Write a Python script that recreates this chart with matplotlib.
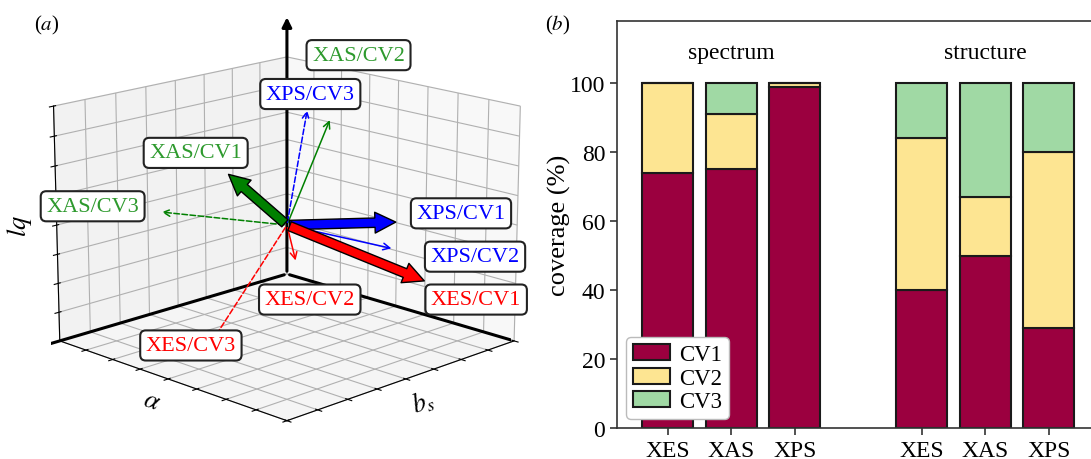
import numpy as np
import matplotlib
matplotlib.use('Agg')
import matplotlib.pyplot as plt
from matplotlib.patches import FancyArrowPatch
from mpl_toolkits.mplot3d import proj3d

plt.rcParams['font.family'] = 'serif'
plt.rcParams['font.serif'] = ['Liberation Serif', 'DejaVu Serif']
plt.rcParams['mathtext.fontset'] = 'stix'

# ---- data: panel (a), CV loadings in (b_s, alpha, lq) ----
vec_names = ['XPS/CV1', 'XES/CV1', 'XAS/CV1',
             'XPS/CV2', 'XAS/CV2', 'XES/CV2',
             'XPS/CV3', 'XAS/CV3', 'XES/CV3']
vec_bs = [-0.38, -0.40, 0.31, -0.31, -0.29, 0.11, -0.24, 0.46, 0.59]
vec_alpha = [0.58, 0.80, -0.21, 0.61, 0.09, 0.19, -0.06, -0.66, -0.09]
vec_lq = [0.08, -0.37, 0.47, -0.12, 0.86, -0.24, 0.92, 0.06, -0.90]
# where the label boxes sit (same coordinates)
lab_bs = [-0.755, -0.829, 0.393, -0.82, -0.305, -0.10, -0.10, 0.842, 0.423]
lab_alpha = [0.755, 0.829, -0.393, 0.82, 0.305, 0.10, 0.10, -0.842, -0.423]
lab_lq = [0.10, -0.64, 0.61, -0.27, 1.42, -0.64, 1.10, 0.16, -1.04]

# ---- data: panel (b), coverage (%) ----
groups = ['spectrum', 'structure']
techniques = ['XES', 'XAS', 'XPS']
cv1 = [74, 75, 99, 40, 50, 29]
cv2 = [26, 16, 1, 44, 17, 51]
cv3 = [0, 9, 0, 16, 33, 20]


class Arrow3D(FancyArrowPatch):
    def __init__(self, xs, ys, zs, *args, **kwargs):
        super().__init__((0, 0), (0, 0), *args, **kwargs)
        self._verts3d = xs, ys, zs

    def do_3d_projection(self, renderer=None):
        xs3d, ys3d, zs3d = self._verts3d
        xs, ys, zs = proj3d.proj_transform(xs3d, ys3d, zs3d, self.axes.M)
        self.set_positions((xs[0], ys[0]), (xs[1], ys[1]))
        return np.min(zs)


fig = plt.figure(figsize=(10.91, 4.6), dpi=100)

# ------------------ (a) ------------------
ax = fig.add_axes([0.0073, -0.005, 0.5, 1.0], projection='3d')
ax.view_init(elev=16, azim=45)
ax.set_box_aspect(None, zoom=1.1)
ax.set_xlim(-1, 1)
ax.set_ylim(-1, 1)
ax.set_zlim(-1, 1)
ticks = np.linspace(-1, 1, 9)
ax.set_xticks(ticks)
ax.set_yticks(ticks)
ax.set_zticks(ticks)
ax.set_xticklabels([])
ax.set_yticklabels([])
ax.set_zticklabels([])
ax.set_xlabel(r'$b_s$', fontsize=19, labelpad=-9)
ax.set_ylabel(r'$\alpha$', fontsize=19, labelpad=-9)
ax.zaxis.set_rotate_label(False)
ax.set_zlabel(r'$lq$', fontsize=19, labelpad=-7, rotation=90)
ax.computed_zorder = False

# black coordinate arrows from the back corner
for end in [(1.25, -1, -1), (-1, 1.22, -1), (-1, -1, 1.38)]:
    a = Arrow3D([-1, end[0]], [-1, end[1]], [-1, end[2]],
                arrowstyle='-|>', mutation_scale=14, lw=2.2, color='k', zorder=3)
    ax.add_artist(a)

colors = {'XPS': 'blue', 'XES': 'red', 'XAS': 'green'}
text_colors = {'XPS': 'blue', 'XES': 'red', 'XAS': '#2e9a2e'}
for i, name in enumerate(vec_names):
    tech, cv = name.split('/')
    c = colors[tech]
    if cv == 'CV1':
        arr = Arrow3D([0, vec_bs[i]], [0, vec_alpha[i]], [0, vec_lq[i]],
                      arrowstyle='simple,head_width=1.0,head_length=1.0,tail_width=0.45',
                      mutation_scale=15, fc=c, ec='k', lw=1, zorder=5)
    else:
        ls = '-' if cv == 'CV2' else '--'
        arr = Arrow3D([0, vec_bs[i]], [0, vec_alpha[i]], [0, vec_lq[i]],
                      arrowstyle='->', mutation_scale=12, color=c, lw=1.1,
                      linestyle=ls, zorder=4)
    ax.add_artist(arr)
    ax.text(lab_bs[i], lab_alpha[i], lab_lq[i], name, color=text_colors[tech],
            fontsize=16, ha='center', va='center', zorder=6,
            bbox=dict(boxstyle='round,pad=0.25', fc='white', ec='#222222', lw=1.5))

fig.text(0.043, 0.945, r'($a$)', fontsize=15, ha='center', va='center')

# ------------------ (b) ------------------
bx = fig.add_axes([617 / 1091, 31 / 460, 489 / 1091, 407 / 460])
pos = [0, 1, 2, 4, 5, 6]
bar_kw = dict(width=0.8, edgecolor='#1a1a1a', linewidth=1.5)
bx.bar(pos, cv1, color='#9b003f', label='CV1', **bar_kw)
bx.bar(pos, cv2, bottom=cv1, color='#fde592', label='CV2', **bar_kw)
bx.bar(pos, cv3, bottom=np.add(cv1, cv2), color='#a0d9a4', label='CV3', **bar_kw)
bx.set_xlim(-0.8, 6.9)
bx.set_ylim(0, 118)
bx.set_xticks(pos)
bx.set_xticklabels(techniques * 2)
bx.set_yticks([0, 20, 40, 60, 80, 100])
bx.tick_params(labelsize=17, width=1.2, length=5, color='#333333')
bx.set_ylabel('coverage (%)', fontsize=19, labelpad=-1)
for sp in bx.spines.values():
    sp.set_color('#333333')
    sp.set_linewidth(1.2)
bx.text(1, 109, groups[0], fontsize=17, ha='center', va='center')
bx.text(5, 109, groups[1], fontsize=17, ha='center', va='center')
bx.legend(loc='lower left', fontsize=16.5, handlelength=1.6, handletextpad=0.4,
          borderpad=0.3, labelspacing=0.1, edgecolor='#bbbbbb', framealpha=1,
          borderaxespad=0.4)
fig.text(0.511, 0.945, r'($b$)', fontsize=15, ha='center', va='center')

fig.savefig('out.png', dpi=100)
